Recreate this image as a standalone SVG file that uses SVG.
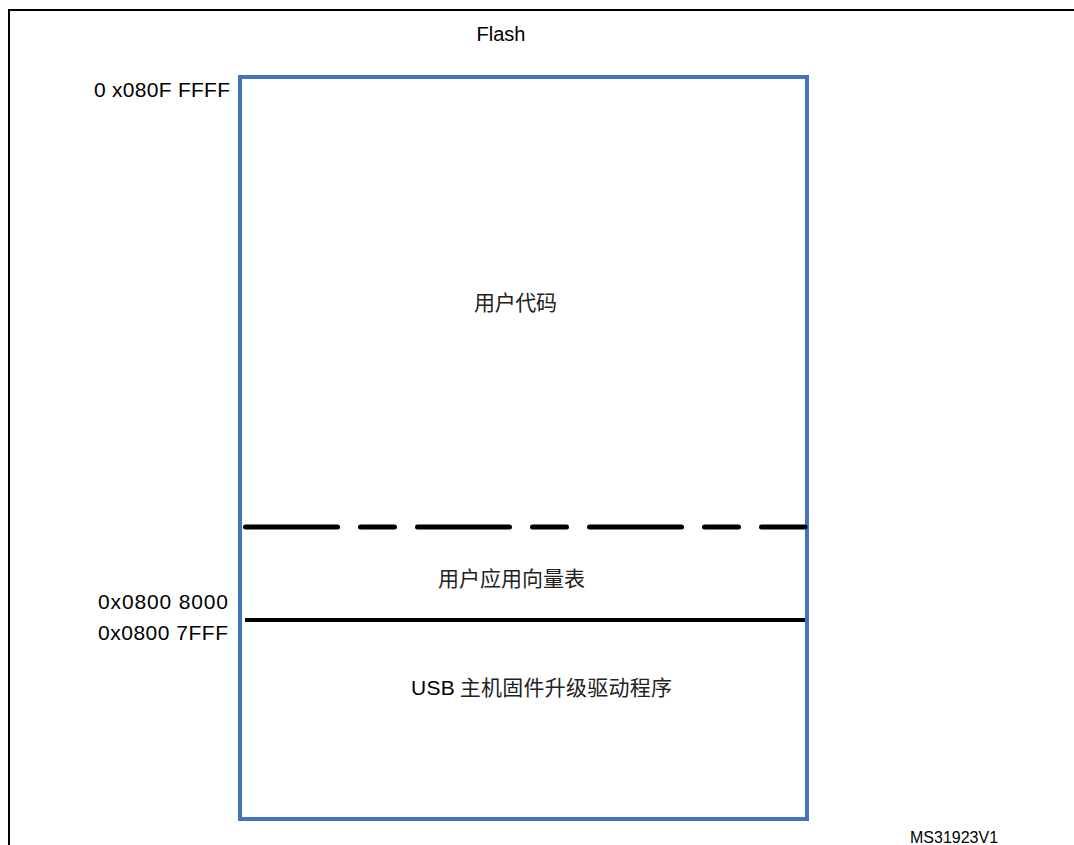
<svg xmlns="http://www.w3.org/2000/svg" width="1074" height="845" viewBox="0 0 1074 845">
<style>
.t{font-family:"Liberation Sans","Noto Sans CJK SC",sans-serif;font-size:20px;fill:#000}
.a{font-family:"Liberation Sans",sans-serif;font-size:21px;fill:#000}
.c{font-family:"Noto Sans CJK SC","Liberation Sans",sans-serif;font-size:21px;fill:#222}
.frame{fill:none;stroke:#000;stroke-width:2}
</style>
<rect width="1074" height="845" fill="#fff"/>
<path class="frame" d="M9,845 V10 H1074"/>
<g id="title"><text class="t" x="501" y="41" text-anchor="middle">Flash</text></g>
<g id="flash-block">
<rect x="240" y="77" width="567" height="742" fill="none" stroke="#4472C4" stroke-width="4"/>
</g>
<g id="connectors">
<line x1="245.5" y1="527" x2="805" y2="527" stroke="#000" stroke-width="5" stroke-linecap="round" stroke-dasharray="92 23 34 23"/>
<line x1="245" y1="620" x2="805" y2="620" stroke="#000" stroke-width="4"/>
</g>
<g id="addr-top"><text class="a" x="230" y="97" text-anchor="end" textLength="136" lengthAdjust="spacing">0 x080F FFFF</text></g>
<g id="addr-8000"><text class="a" x="98" y="609" textLength="130" lengthAdjust="spacing">0x0800 8000</text></g>
<g id="addr-7fff"><text class="a" x="98" y="640" textLength="130" lengthAdjust="spacing">0x0800 7FFF</text></g>
<g id="user-code"><text class="c" x="474" y="310" textLength="83" lengthAdjust="spacing">用户代码</text></g>
<g id="user-vector"><text class="c" x="438" y="586" textLength="147" lengthAdjust="spacing">用户应用向量表</text></g>
<g id="usb-driver"><text class="c" x="411" y="695" textLength="261" lengthAdjust="spacing"><tspan font-family="Liberation Sans, sans-serif" fill="#000">USB</tspan> 主机固件升级驱动程序</text></g>
<g id="label"><text class="t" x="910" y="843" style="font-size:16px">MS31923V1</text></g>
</svg>
